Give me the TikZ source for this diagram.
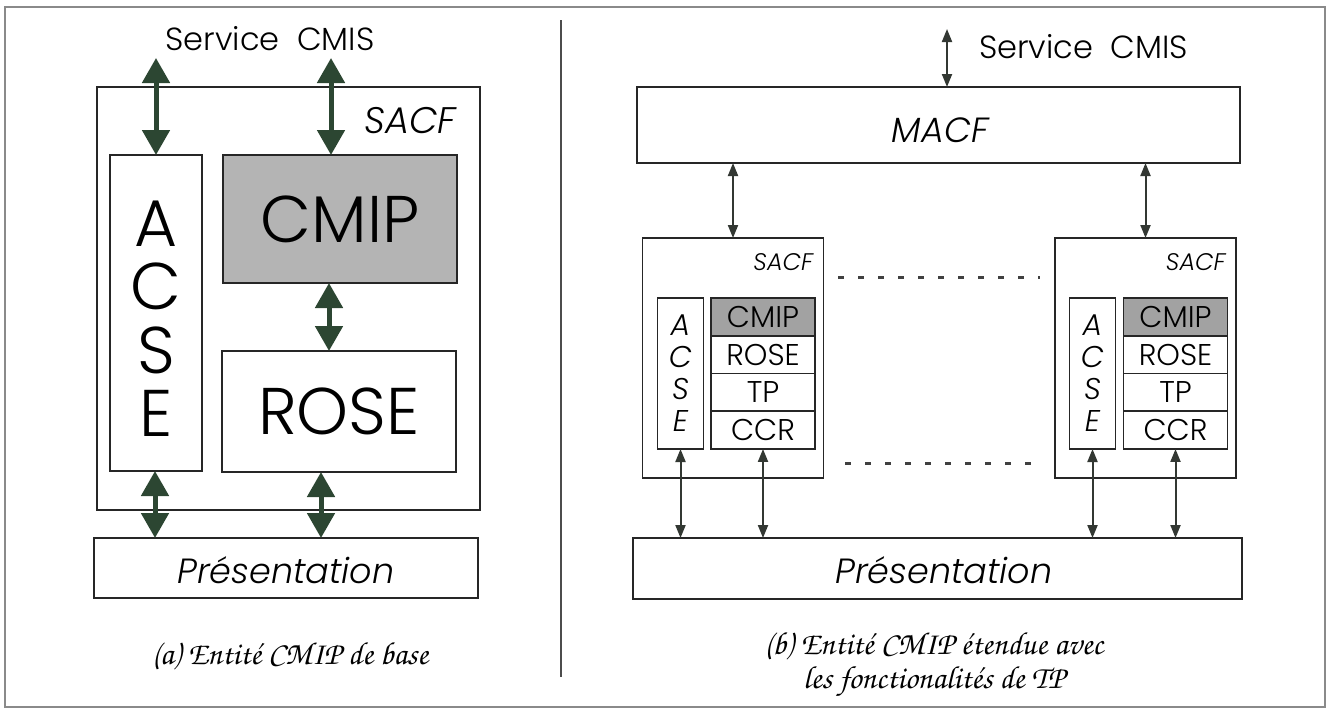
\documentclass[tikz,border=0pt]{standalone}
\usepackage{fontspec}
\setmainfont{Poppins}[UprightFont=* Light, ItalicFont=* Light Italic]
\newfontfamily\chorus{TeX Gyre Chorus}
\usetikzlibrary{arrows.meta}
\definecolor{agreen}{HTML}{2C4632}
\definecolor{darkg}{HTML}{333833}
\definecolor{bigfill}{HTML}{B4B4B4}
\definecolor{smallfill}{HTML}{A2A2A2}
\definecolor{framegray}{HTML}{8A8A8A}
\tikzset{
  boxL/.style={draw=black!85, line width=2.4pt, inner sep=0pt, outer sep=0pt},
  boxR/.style={draw=black!85, line width=1.6pt, inner sep=0pt, outer sep=0pt},
  bigarr/.style={draw=agreen, fill=agreen, line width=5pt, {Triangle[width=27pt,length=25pt]}-{Triangle[width=27pt,length=25pt]}},
  smallarr/.style={draw=darkg, fill=darkg, line width=2pt, {Triangle[width=10pt,length=13pt]}-{Triangle[width=10pt,length=13pt]}},
  dotline/.style={draw=black!75, line width=3pt, dash pattern=on 6pt off 14pt},
  txt/.style={inner sep=0pt, outer sep=0pt},
  fbig/.style={font=\fontsize{66}{66}\selectfont},
  fsvc/.style={font=\fontsize{32}{32}\selectfont},
  fsacfL/.style={font=\fontsize{37}{37}\selectfont\itshape},
  fpres/.style={font=\fontsize{35}{35}\selectfont\itshape},
  fstack/.style={font=\fontsize{30}{30}\selectfont},
  facse/.style={font=\fontsize{30}{30}\selectfont\itshape},
  fsacfR/.style={font=\fontsize{24}{24}\selectfont\itshape},
  fcap/.style={font=\fontsize{32}{38}\selectfont\chorus},
}
\begin{document}
\begin{tikzpicture}[x=1pt,y=-1pt]
\useasboundingbox (0,0) rectangle (1332,710);
% outer frame and divider
\node[draw=framegray, line width=1.3pt, minimum width=1320pt, minimum height=700pt, inner sep=0pt] (frame) at (665,357) {};
\coordinate (divtop) at (561,20);
\coordinate (divbot) at (561,677);
\draw[black!70, line width=1.6pt] (divtop) -- (divbot);

% ---------------- left panel ----------------
\node[txt, fsvc, anchor=base] (svcL) at (270,50) {Service\ \ CMIS};
\node[boxL, minimum width=383pt, minimum height=423pt] (sacfL) at (288.5,298.5) {};
\node[txt, fsacfL, anchor=base east] (sacfLlab) at (456,133) {SACF};
\node[boxL, minimum width=92pt, minimum height=316pt] (acseL) at (156,313) {};
\node[txt, fbig, anchor=base] (lA) at (156,246.5) {A};
\node[txt, fbig, anchor=base] (lC) at (156,309.5) {C};
\node[txt, fbig, anchor=base] (lS) at (156,373.5) {S};
\node[txt, fbig, anchor=base] (lE) at (156,436.5) {E};
\node[boxL, fill=bigfill, minimum width=234pt, minimum height=128pt, fbig] (cmipL) at (340,219) {CMIP};
\node[boxL, minimum width=234pt, minimum height=121pt, fbig] (roseL) at (339,411.5) {ROSE};
\node[boxL, minimum width=384pt, minimum height=60pt] (presL) at (286,568) {};
\node[txt, fpres, anchor=base] (presLlab) at (286,583) {Présentation};
\coordinate (tA) at (156,58);
\coordinate (tB) at (331,58);
\draw[bigarr] (tA) -- (acseL.north);
\draw[bigarr] (tB) -- (cmipL.north -| tB);
\coordinate (mC) at (329,0);
\draw[bigarr] (cmipL.south -| mC) -- (roseL.north -| mC);
\coordinate (mD) at (155,0);
\draw[bigarr] (acseL.south -| mD) -- (presL.north -| mD);
\coordinate (mE) at (321,0);
\draw[bigarr] (roseL.south -| mE) -- (presL.north -| mE);
\node[txt, fcap, anchor=base] (capA) at (290,664) {(a) Entité CMIP de base};

% ---------------- right panel ----------------
\node[txt, fsvc, anchor=base west] (svcR) at (979,58) {Service\ \ CMIS};
\node[boxR, minimum width=603pt, minimum height=76pt] (macf) at (938.5,125) {};
\node[txt, fpres, anchor=base] (macflab) at (940,142) {MACF};
\coordinate (tR) at (947,29);
\draw[smallarr] (tR) -- (macf.north -| tR);

\foreach \n/\cx/\ax/\sx in {1/733/680.5/763, 2/1145.5/1092.5/1175.5}{
  \node[boxR, minimum width=181pt, minimum height=240pt] (sacf\n) at (\cx,358) {};
  \node[txt, fsacfR, anchor=base east] (sacflab\n) at (\cx+80,270) {SACF};
  \node[boxR, minimum width=46pt, minimum height=151pt] (acse\n) at (\ax,373.5) {};
  \node[txt, facse, anchor=base] (a\n) at (\ax,335) {A};
  \node[txt, facse, anchor=base] (c\n) at (\ax,367) {C};
  \node[txt, facse, anchor=base] (s\n) at (\ax,399) {S};
  \node[txt, facse, anchor=base] (e\n) at (\ax,431) {E};
  \node[boxR, fill=smallfill, minimum width=104pt, minimum height=37.75pt, fstack] (cmip\n) at (\sx,316.9) {CMIP};
  \node[boxR, minimum width=104pt, minimum height=37.75pt, fstack] (rose\n) at (\sx,354.6) {ROSE};
  \node[boxR, minimum width=104pt, minimum height=37.75pt, fstack] (tp\n) at (\sx,392.4) {TP};
  \node[boxR, minimum width=104pt, minimum height=37.75pt, fstack] (ccr\n) at (\sx,430.1) {CCR};
}
\node[boxR, minimum width=609pt, minimum height=61pt] (presR) at (937.5,568.5) {};
\node[txt, fpres, anchor=base] (presRlab) at (944,583) {Présentation};

\draw[smallarr] (macf.south -| sacf1.north) -- (sacf1.north);
\draw[smallarr] (macf.south -| sacf2.north) -- (sacf2.north);
\draw[smallarr] (acse1.south) -- (presR.north -| acse1.south);
\draw[smallarr] (ccr1.south) -- (presR.north -| ccr1.south);
\draw[smallarr] (acse2.south) -- (presR.north -| acse2.south);
\draw[smallarr] (ccr2.south) -- (presR.north -| ccr2.south);

\coordinate (d1a) at (838,277);
\coordinate (d1b) at (1040,277);
\coordinate (d2a) at (845,463);
\coordinate (d2b) at (1045,463);
\draw[dotline] (d1a) -- (d1b);
\draw[dotline] (d2a) -- (d2b);

\node[txt, fcap, anchor=base] (capB1) at (934,654) {(b) Entité CMIP étendue avec};
\node[txt, fcap, anchor=base] (capB2) at (934,688) {les fonctionalités de TP};
\end{tikzpicture}
\end{document}
